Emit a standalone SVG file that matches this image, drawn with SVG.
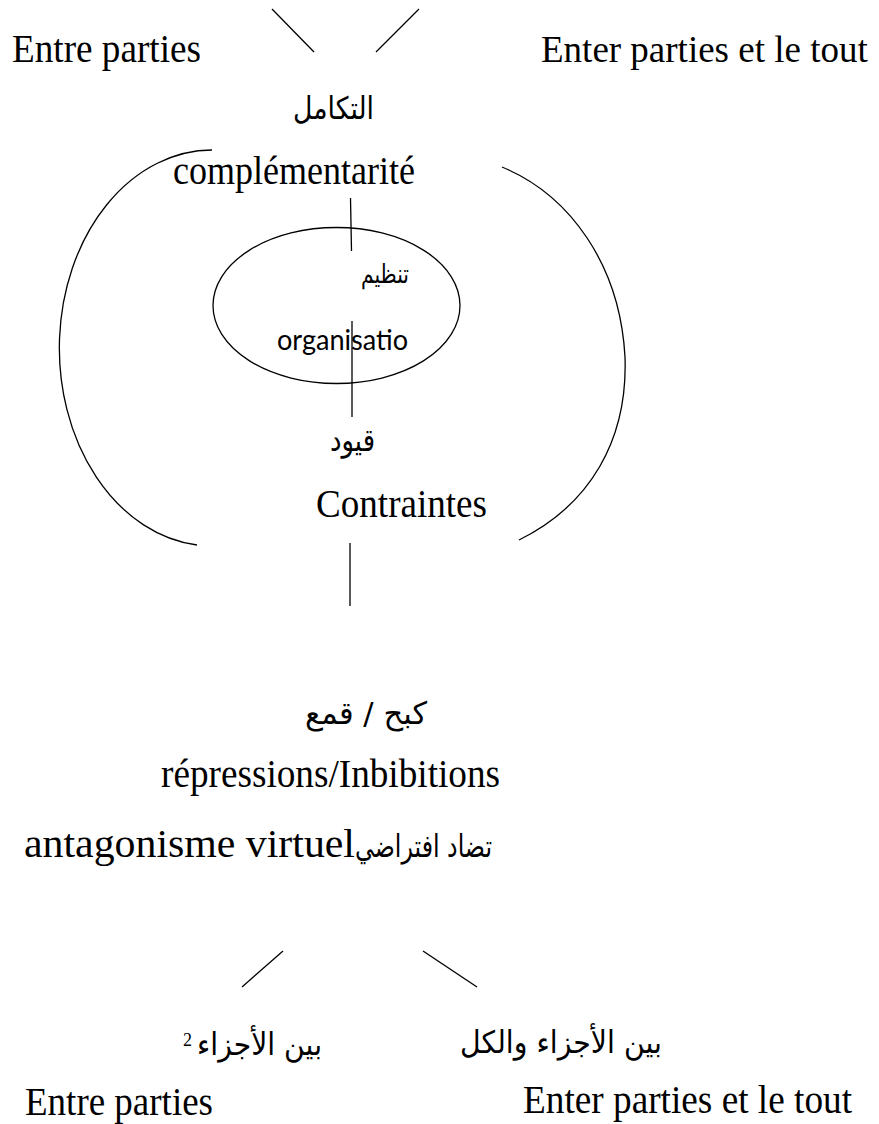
<svg xmlns="http://www.w3.org/2000/svg" width="879" height="1124" viewBox="0 0 879 1124">
<style>
.ln{stroke:#000;stroke-width:1.3;fill:none}
.lat{font-family:"Liberation Serif","Times New Roman",serif;font-size:40px;fill:#000}
.ar{font-family:"DejaVu Sans","Noto Sans",sans-serif;font-size:31px;fill:#000}
.cal{font-family:Lato,"Liberation Sans",sans-serif;font-size:28px;fill:#000}
.arc{font-family:"DejaVu Sans",sans-serif;font-size:26px;fill:#000}
</style>
<rect width="879" height="1124" fill="#fff"/>
<g id="connectors">
<line class="ln" x1="272" y1="9" x2="314" y2="52"/>
<line class="ln" x1="419" y1="9" x2="376" y2="52"/>
<line class="ln" x1="350.5" y1="198" x2="351.5" y2="251"/>
<line class="ln" x1="352" y1="321" x2="352" y2="417"/>
<line class="ln" x1="350" y1="543" x2="350" y2="606"/>
<line class="ln" x1="283" y1="951" x2="242" y2="987"/>
<line class="ln" x1="423" y1="951" x2="477" y2="987"/>
</g>
<g id="top-left"><text class="lat" x="12" y="62" textLength="189" lengthAdjust="spacingAndGlyphs">Entre parties</text></g>
<g id="top-right"><text class="lat" x="541" y="62" style="font-size:37px">Enter parties et le tout</text></g>
<g id="integration"><text class="ar" x="333.5" y="119" text-anchor="middle" textLength="81" lengthAdjust="spacingAndGlyphs">التكامل</text></g>
<g id="bracket-left"><path class="ln" d="M212,150 A153,198 0 0 0 197,545"/></g>
<g id="bracket-right"><path class="ln" d="M502,167 C570,195 620,265 625,357 C628,440 590,505 519,540"/></g>
<g id="complementarite"><text class="lat" x="173" y="184" textLength="242" lengthAdjust="spacingAndGlyphs">complémentarité</text></g>
<g id="organisation">
<ellipse class="ln" cx="336.5" cy="305.5" rx="123.5" ry="78"/>
<text class="arc" x="385" y="283" text-anchor="middle" textLength="48" lengthAdjust="spacingAndGlyphs">تنظيم</text>
<text class="cal" x="277" y="350" textLength="131" lengthAdjust="spacingAndGlyphs">organisatio</text>
</g>
<g id="contraintes">
<text class="ar" x="352.5" y="451" text-anchor="middle" textLength="45" lengthAdjust="spacingAndGlyphs">قيود</text>
<text class="lat" x="316" y="517" textLength="171" lengthAdjust="spacingAndGlyphs">Contraintes</text>
</g>
<g id="repressions">
<text class="ar" x="366" y="724" text-anchor="middle" textLength="122" lengthAdjust="spacingAndGlyphs">كبح / قمع</text>
<text class="lat" x="161" y="787" textLength="339" lengthAdjust="spacingAndGlyphs">répressions/Inbibitions</text>
</g>
<g id="antagonisme"><text class="lat" x="24" y="857"><tspan textLength="331" lengthAdjust="spacingAndGlyphs">antagonisme virtuel</tspan><tspan class="ar" x="355" textLength="137" lengthAdjust="spacingAndGlyphs">تضاد افتراضي</tspan></text></g>
<g id="bottom-left">
<text class="ar" x="259.5" y="1055" text-anchor="middle" textLength="125" lengthAdjust="spacingAndGlyphs">بين الأجزاء</text>
<text class="lat" x="183" y="1046" style="font-size:18px">2</text>
<text class="lat" x="25" y="1115" textLength="188" lengthAdjust="spacingAndGlyphs">Entre parties</text>
</g>
<g id="bottom-right">
<text class="ar" x="561" y="1053" text-anchor="middle" textLength="202" lengthAdjust="spacingAndGlyphs">بين الأجزاء والكل</text>
<text class="lat" x="523" y="1113" textLength="329" lengthAdjust="spacingAndGlyphs">Enter parties et le tout</text>
</g>
</svg>
